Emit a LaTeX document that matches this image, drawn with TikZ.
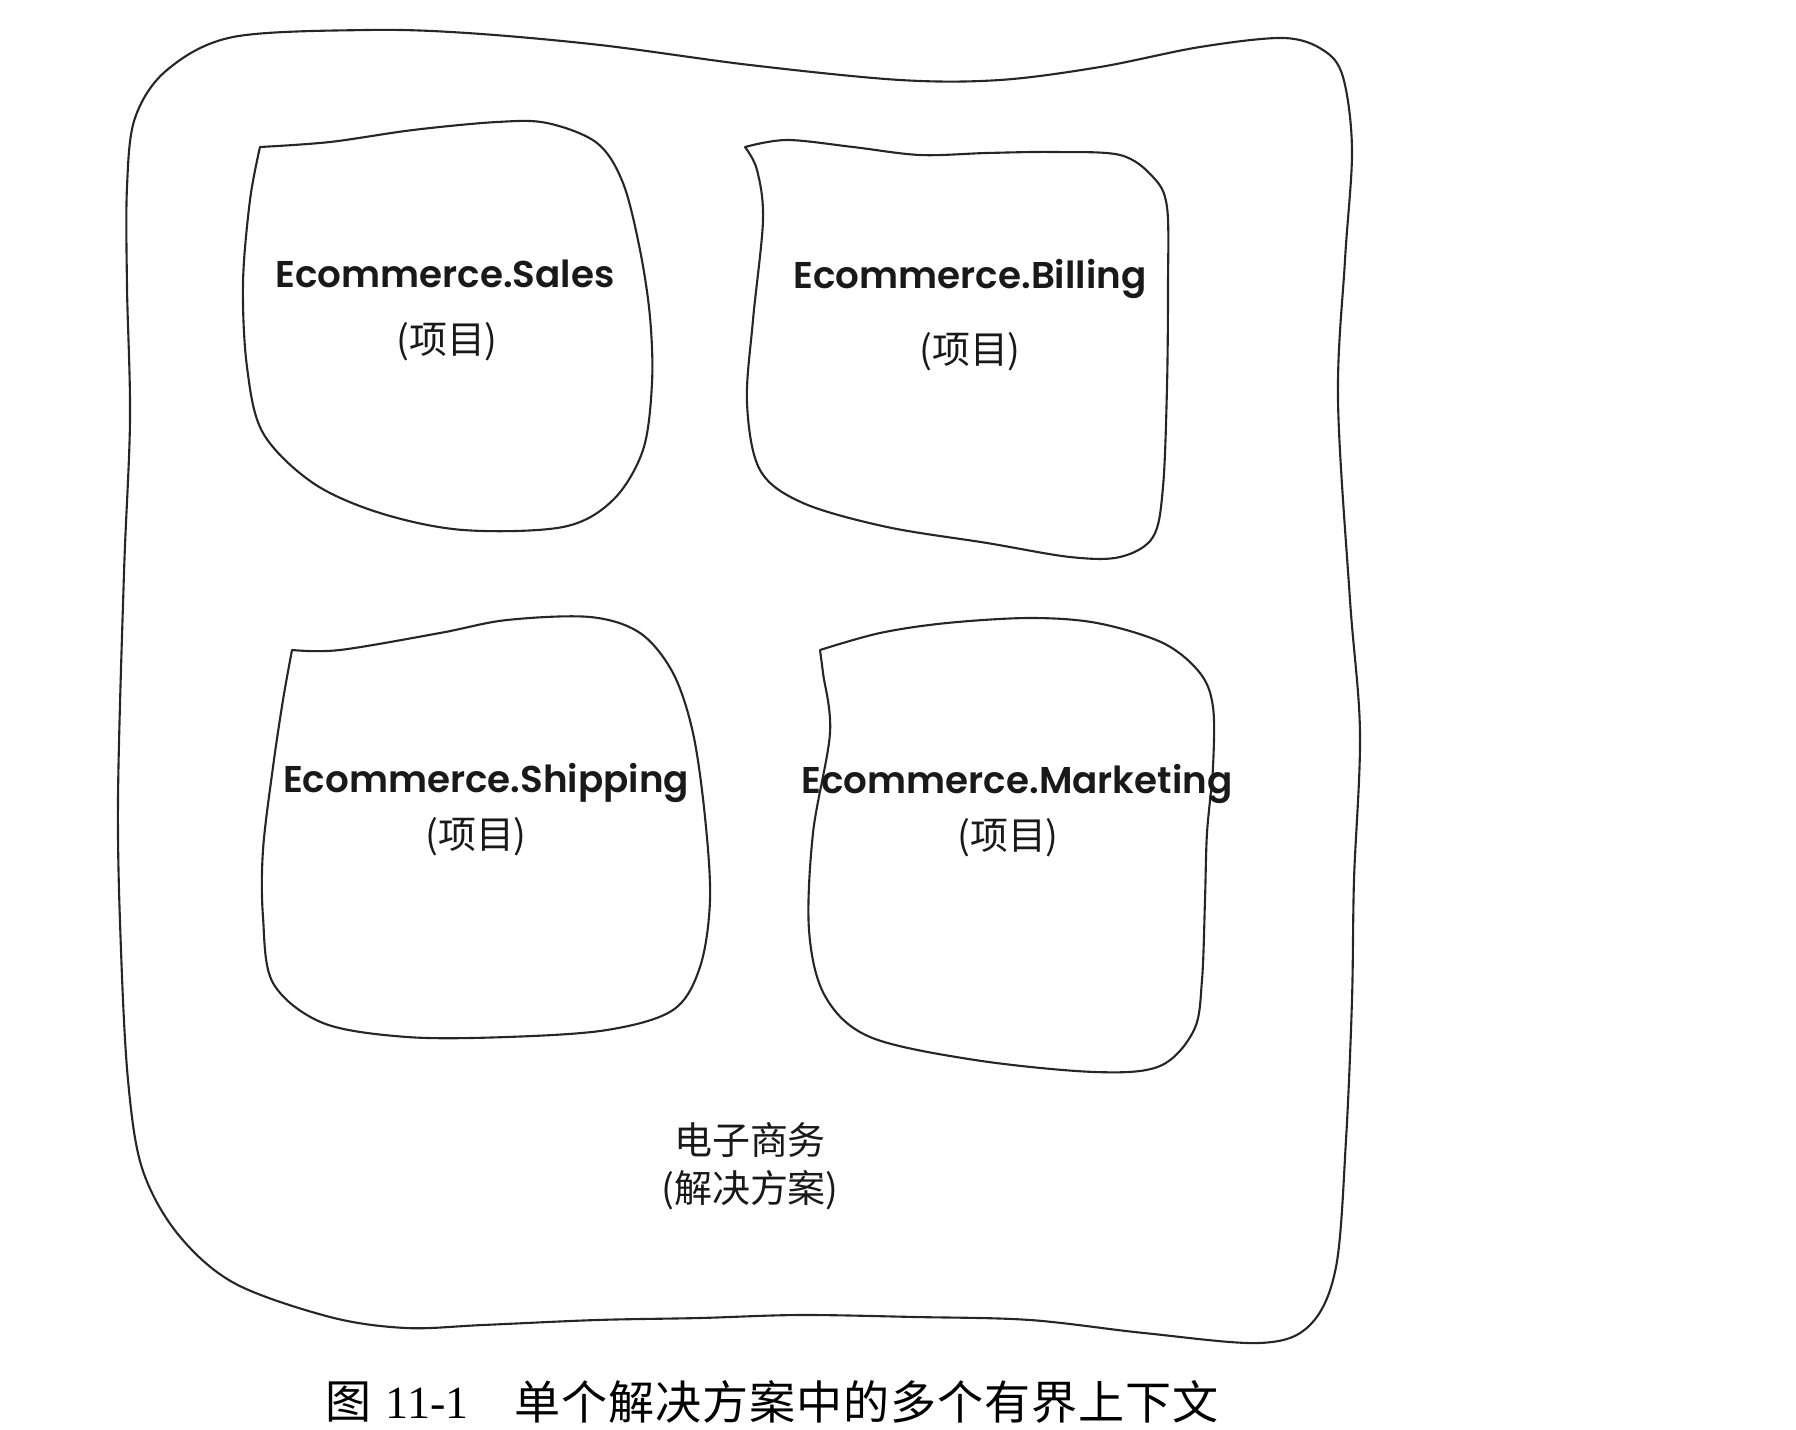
\documentclass[tikz,border=0pt]{standalone}
\usepackage{fontspec}
\newfontfamily\labelfont{Poppins SemiBold}
\newfontfamily\cjk{Noto Sans CJK SC}
\newfontfamily\capfont[LetterSpace=2]{Noto Sans CJK SC}
\newfontfamily\capnum{Liberation Serif}
\tikzset{
  blob/.style={line width=0.6pt, draw=black!85},
  projname/.style={font=\labelfont\fontsize{10.6}{13}\selectfont, anchor=base, inner sep=0pt, text=black!90},
  projnote/.style={font=\cjk\fontsize{10.8}{13}\selectfont, inner sep=0pt, text=black!90},
}
\begin{document}
\begin{tikzpicture}[x=0.01cm, y=-0.01cm, line join=round, line cap=round]
\useasboundingbox (0,0) rectangle (1796,1430);
% the solution
\draw[blob] plot[smooth cycle, tension=0.55] coordinates {
  (233,37) (367,30) (467,33) (600,45) (750,65) (900,80) (1000,80) (1100,67)
  (1200,47) (1283,38) (1323,50) (1343,77) (1352,150) (1345,260) (1338,400)
  (1350,600) (1360,733) (1354,880) (1352,1000) (1346,1140) (1336,1267)
  (1310,1325) (1260,1343) (1144,1333) (1030,1320) (915,1317) (800,1315)
  (700,1318) (597,1320) (483,1325) (406,1328) (330,1317) (234,1283)
  (177,1233) (142,1168) (128,1080) (121,950) (118,800) (124,573) (130,420)
  (127,287) (127,187) (135,118) (167,70)};
% projects
\draw[blob, smooth, tension=0.55] plot coordinates {
  (260,147) (330,142) (413,130) (497,122) (547,123) (597,143) (623,183)
  (640,250) (650,317) (652,383) (643,450) (613,500) (563,527) (463,530)
  (380,513) (313,483) (263,433) (247,367) (243,283) (250,200) (260,147)};
\draw[blob, smooth, tension=0.55] plot coordinates {
  (745,147) (787,140) (853,147) (920,155) (987,153) (1053,152) (1120,155)
  (1153,177) (1167,207) (1168,287) (1167,387) (1163,487) (1153,537)
  (1120,557) (1070,557) (987,543) (887,527) (803,503) (760,470) (747,403)
  (753,320) (763,220) (757,170) (745,147)};
\draw[blob, smooth, tension=0.55] plot coordinates {
  (292,650) (340,650) (440,633) (507,620) (590,617) (640,633) (673,673)
  (693,733) (705,817) (710,900) (700,967) (673,1010) (607,1030) (507,1037)
  (407,1037) (323,1023) (273,983) (263,917) (263,850) (273,767) (283,700)
  (292,650)};
\draw[blob, smooth, tension=0.55] plot coordinates {
  (820,650) (880,633) (947,623) (1030,618) (1097,623) (1163,643) (1200,673)
  (1213,707) (1213,767) (1207,833) (1205,900) (1202,980) (1194,1030)
  (1160,1066) (1095,1072) (975,1060) (870,1037) (825,996) (809,930)
  (813,833) (830,733) (823,673) (820,650)};
% labels
\node[projname] (sales) at (445,287) {Ecommerce.Sales};
\node[projnote] (salesnote) at (447,342) {(项目)};
\node[projname] (billing) at (970,288) {Ecommerce.Billing};
\node[projnote] (billingnote) at (970,352) {(项目)};
\node[projname] (shipping) at (486,792) {Ecommerce.Shipping};
\node[projnote] (shippingnote) at (476,837) {(项目)};
\node[projname] (marketing) at (1017,793) {Ecommerce.Marketing};
\node[projnote] (marketingnote) at (1008,838) {(项目)};
\node[projnote] (ecom) at (750,1140) {电子商务};
\node[projnote] (ecomnote) at (750,1190) {(解决方案)};
% caption
\node[anchor=west, inner sep=0pt, font=\fontsize{13.1}{15}\selectfont] (figno) at (325,1402)
  {{\capfont 图}\hspace{4pt}{\capnum 11-1}};
\node[anchor=west, inner sep=0pt, font=\capfont\fontsize{13.1}{15}\selectfont] (figtitle) at (514,1402)
  {单个解决方案中的多个有界上下文};
\end{tikzpicture}
\end{document}
